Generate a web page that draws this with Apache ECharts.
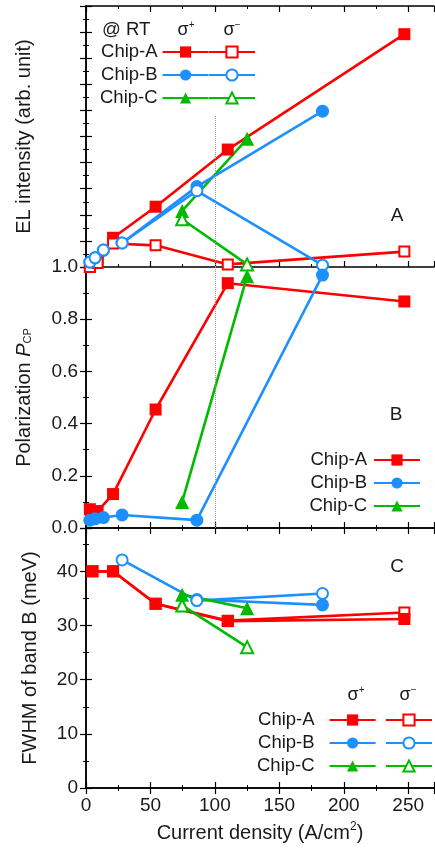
<!DOCTYPE html>
<html>
<head>
<meta charset="utf-8">
<script src="https://cdn.jsdelivr.net/npm/echarts@6/dist/echarts.min.js"></script>
<style>
html, body { margin: 0; padding: 0; background: #fff; }
#chart { width: 435px; height: 850px; }
</style>
</head>
<body>
<div id="chart"></div>
<script>
// current density positions (A/cm2)
var xChipA = [3, 9, 21, 54, 110, 247];
var xChipA_C = [5, 21, 54, 110, 247];
var xChipB = [3, 7, 13.5, 28, 86, 183.5];
var xChipB_Cminus = [28, 86, 183.5];
var xChipB_Cplus = [86, 183.5];
var xChipC = [74.6, 125];
var refX = 100;

// A: EL intensity (arb. unit)
var elA_plus = [1.0, 1.027, 1.112, 1.231, 1.45, 1.892];
var elA_minus = [1.0, 1.015, 1.09, 1.083, 1.01, 1.059];
var elB_plus = [1.019, 1.035, 1.065, 1.092, 1.308, 1.597];
var elB_minus = [1.019, 1.035, 1.065, 1.092, 1.292, 1.007];
var elC_plus = [1.215, 1.491];
var elC_minus = [1.183, 1.010];

// B: polarization P_CP
var polA = [0.072, 0.065, 0.13, 0.454, 0.938, 0.868];
var polB = [0.03, 0.035, 0.04, 0.05, 0.03, 0.969];
var polC = [0.10, 0.965];

// C: FWHM of band B (meV)
var fwA_plus = [40.0, 40.0, 34.0, 30.8, 31.2];
var fwA_minus = [40.0, 40.0, 34.0, 30.9, 32.4];
var fwB_plus = [34.8, 33.8];
var fwB_minus = [42.1, 34.6, 35.9];
var fwC_plus = [35.7, 33.2];
var fwC_minus = [33.7, 26.0];

var RED = '#ff0000', BLUE = '#1e8fff', GREEN = '#00bb00';
var FONT = 'Liberation Sans, Arial, sans-serif';
var TXT = '#1a1a1a';

function pairs(xs, ys) {
	return xs.map(function(x, i) { return [x, ys[i]]; });
}

function mkSeries(name, g, xs, ys, color, symbol, filled) {
	var size = symbol == 'rect' ? 12 : (symbol == 'circle' ? 13 : 14);
	return {
		name: name,
		type: 'line',
		xAxisIndex: g * 2,
		yAxisIndex: g * 2,
		data: pairs(xs, ys),
		symbol: symbol,
		symbolSize: filled ? size : size - 2,
		showAllSymbol: true,
		animation: false,
		lineStyle: { color: color, width: 2.6 },
		itemStyle: filled ? { color: color } : { color: '#fff', borderColor: color, borderWidth: 2 },
		emphasis: { disabled: true }
	};
}

var grids = [
	{ left: 86, right: 1, top: 6, height: 261 },
	{ left: 86, right: 1, top: 267, height: 261 },
	{ left: 86, right: 1, top: 528, height: 260 }
];

var yRanges = [
	{ min: 1, max: 2, interval: 0.1 },
	{ min: 0, max: 1, interval: 0.2 },
	{ min: 0, max: 48, interval: 10 }
];

var axisLine = { show: true, lineStyle: { color: '#000', width: 1.5 } };
var tickIn = { show: true, inside: true, length: 6, lineStyle: { color: '#000', width: 1.2 } };
var minorIn = { show: true, splitNumber: 2, length: 3, lineStyle: { color: '#000', width: 1 } };

var xAxes = [], yAxes = [];
for (var g = 0; g < 3; g++) {
	xAxes.push({
		type: 'value', gridIndex: g, position: 'bottom', min: 0, max: 270, interval: 50,
		axisLine: axisLine, axisTick: tickIn, minorTick: minorIn, splitLine: { show: false },
		axisLabel: {
			show: g == 2, margin: 8, color: TXT, fontSize: 19, fontFamily: FONT, showMaxLabel: false
		},
		name: g == 2 ? 'Current density (A/cm{sup|2})' : '',
		nameLocation: 'middle', nameGap: 33,
		nameTextStyle: {
			color: TXT, fontSize: 20, fontFamily: FONT,
			rich: { sup: { fontSize: 12, fontFamily: FONT, color: TXT, padding: [0, 0, 12, 0] } }
		}
	});
	xAxes.push({
		type: 'value', gridIndex: g, position: 'top', min: 0, max: 270, interval: 50,
		axisLine: axisLine, axisTick: tickIn, minorTick: minorIn, splitLine: { show: false },
		axisLabel: { show: false }
	});
	var yr = yRanges[g];
	yAxes.push({
		type: 'value', gridIndex: g, position: 'left', min: yr.min, max: yr.max, interval: yr.interval,
		axisLine: axisLine, axisTick: tickIn, minorTick: minorIn, splitLine: { show: false },
		axisLabel: {
			show: g != 0, margin: 8, color: TXT, fontSize: 19, fontFamily: FONT,
			showMaxLabel: g == 1,
			formatter: g == 1 ? function(v) { return v.toFixed(1); } : null
		}
	});
	yAxes.push({
		type: 'value', gridIndex: g, position: 'right', min: yr.min, max: yr.max, interval: yr.interval,
		axisLine: axisLine, axisTick: tickIn, minorTick: minorIn, splitLine: { show: false },
		axisLabel: { show: false }
	});
}

yAxes[0].name = 'EL intensity (arb. unit)';
yAxes[0].nameGap = 52;
yAxes[2].name = 'Polarization {i|P}{sub|CP}';
yAxes[2].nameGap = 52;
yAxes[4].name = 'FWHM of band B (meV)';
yAxes[4].nameGap = 46;
[0, 2, 4].forEach(function(k) {
	yAxes[k].nameLocation = 'middle';
	yAxes[k].nameRotate = 90;
	yAxes[k].nameTextStyle = {
		color: TXT, fontSize: 20, fontFamily: FONT,
		rich: {
			i: { fontSize: 20, fontStyle: 'italic', fontFamily: FONT, color: TXT },
			sub: { fontSize: 11, fontFamily: FONT, color: TXT, padding: [8, 0, 0, 0] }
		}
	};
});

var dotted = { type: 'dotted', color: '#999', width: 1 };

var sA1 = mkSeries('Chip-A', 0, xChipA, elA_plus, RED, 'rect', true);
sA1.markLine = {
	silent: true, symbol: 'none', label: { show: false }, lineStyle: dotted, animation: false,
	data: [[{ coord: [refX, 1.0] }, { coord: [refX, 1.58] }]]
};
var sB1 = mkSeries('Chip-A', 1, xChipA, polA, RED, 'rect', true);
sB1.markLine = {
	silent: true, symbol: 'none', label: { show: false }, lineStyle: dotted, animation: false,
	data: [[{ coord: [refX, 0] }, { coord: [refX, 1] }]]
};

var series = [
	sA1,
	mkSeries('Chip-A σ−', 0, xChipA, elA_minus, RED, 'rect', false),
	mkSeries('Chip-C', 0, xChipC, elC_plus, GREEN, 'triangle', true),
	mkSeries('Chip-C σ−', 0, xChipC, elC_minus, GREEN, 'triangle', false),
	mkSeries('Chip-B', 0, xChipB, elB_plus, BLUE, 'circle', true),
	mkSeries('Chip-B σ−', 0, xChipB, elB_minus, BLUE, 'circle', false),

	sB1,
	mkSeries('Chip-B', 1, xChipB, polB, BLUE, 'circle', true),
	mkSeries('Chip-C', 1, xChipC, polC, GREEN, 'triangle', true),

	mkSeries('Chip-A σ−', 2, xChipA_C, fwA_minus, RED, 'rect', false),
	mkSeries('Chip-A', 2, xChipA_C, fwA_plus, RED, 'rect', true),
	mkSeries('Chip-B', 2, xChipB_Cplus, fwB_plus, BLUE, 'circle', true),
	mkSeries('Chip-B σ−', 2, xChipB_Cminus, fwB_minus, BLUE, 'circle', false),
	mkSeries('Chip-C', 2, xChipC, fwC_plus, GREEN, 'triangle', true),
	mkSeries('Chip-C σ−', 2, xChipC, fwC_minus, GREEN, 'triangle', false)
];

var namesPlus = ['Chip-A', 'Chip-B', 'Chip-C'];
var namesMinus = ['Chip-A σ−', 'Chip-B σ−', 'Chip-C σ−'];

function mkLegend(names, left, top, right, showText, padRight) {
	var lg = {
		data: names, orient: 'vertical', top: top, align: showText ? 'right' : 'left',
		itemWidth: 46, itemHeight: 14, itemGap: 1, selectedMode: false, padding: 0,
		textStyle: { color: TXT, fontSize: 18.5, fontFamily: FONT, lineHeight: 22, padding: [0, padRight || 0, 0, 0] },
		formatter: showText ? '{name}' : function() { return ' '; }
	};
	if (left != null) lg.left = left;
	if (right != null) lg.right = right;
	return lg;
}

var legends = [
	mkLegend(namesPlus, 100, 41, null, true, 0),
	mkLegend(namesMinus, 208, 41, null, false, 0),
	mkLegend(namesPlus, null, 449, 14, true, 2),
	mkLegend(namesPlus, 257, 709, null, true, 10),
	mkLegend(namesMinus, 385, 709, null, false, 0)
];

function sigma(x, y, sign) {
	return {
		type: 'text', x: x, y: y,
		style: {
			text: '{s|σ}{p|' + sign + '}', align: 'center', verticalAlign: 'middle',
			rich: {
				s: { fontSize: 18, fontFamily: FONT, fill: TXT },
				p: { fontSize: 10, fontFamily: FONT, fill: TXT, padding: [0, 0, 10, 0] }
			}
		}
	};
}

function label(x, y, t) {
	return {
		type: 'text', x: x, y: y,
		style: { text: t, fontSize: 19, fontFamily: FONT, fill: TXT, align: 'center', verticalAlign: 'middle' }
	};
}

var option = {
	backgroundColor: '#fff',
	animation: false,
	grid: grids.map(function(gr) { gr.outerBoundsMode = 'none'; gr.containLabel = false; return gr; }),
	xAxis: xAxes,
	yAxis: yAxes,
	legend: legends,
	series: series,
	graphic: [
		{ type: 'text', x: 102, y: 30, style: { text: '@ RT', fontSize: 18.5, fontFamily: FONT, fill: TXT, verticalAlign: 'middle' } },
		sigma(186, 30, '+'),
		sigma(232, 30, '−'),
		sigma(356, 695, '+'),
		sigma(408, 695, '−'),
		label(397, 216, 'A'),
		label(396, 415, 'B'),
		label(397, 567, 'C')
	]
};

var chart = echarts.init(document.getElementById('chart'), null, { renderer: 'canvas' });
chart.setOption(option);
</script>
</body>
</html>
